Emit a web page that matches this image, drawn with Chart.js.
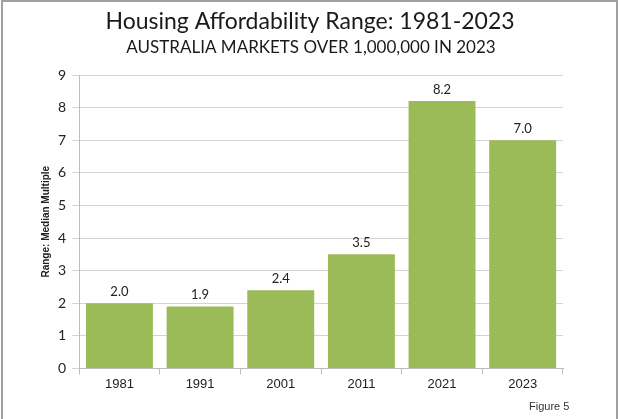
<!DOCTYPE html>
<html>
<head>
<meta charset="utf-8">
<script src="https://cdn.jsdelivr.net/npm/chart.js@4"></script>
<style>
  html, body { margin: 0; padding: 0; background: #fff; }
  #wrap { width: 618px; height: 419px; position: relative; }
</style>
</head>
<body>
<div id="wrap"><canvas id="chart" width="618" height="419"></canvas></div>
<script>
const years = ["1981", "1991", "2001", "2011", "2021", "2023"];
const medianMultiple = [2.0, 1.9, 2.4, 3.5, 8.2, 7.0];
const yTicks = [0, 1, 2, 3, 4, 5, 6, 7, 8, 9];

const chartTitle = "Housing Affordability Range: 1981-2023";
const chartSubtitle = "AUSTRALIA MARKETS OVER 1,000,000 IN 2023";

const barGreen = "#9bbb59";

// frame, titles, value labels and footnote
const extras = {
  id: "extras",
  beforeDraw: (chart) => {
    const ctx = chart.ctx;
    ctx.save();
    ctx.fillStyle = "#fff";
    ctx.fillRect(0, 0, chart.width, chart.height);
    ctx.strokeStyle = "#a0a0a0";
    ctx.lineWidth = 2;
    ctx.beginPath();
    ctx.moveTo(2, 425);
    ctx.lineTo(2, 1);
    ctx.lineTo(617, 1);
    ctx.lineTo(617, 425);
    ctx.stroke();

    ctx.fillStyle = "#1a1a1a";
    ctx.textAlign = "center";
    ctx.textBaseline = "middle";
    ctx.font = "23px Lato";
    ctx.fillText(chartTitle, 310, 22);
    ctx.font = "17px Lato";
    ctx.fillText(chartSubtitle, 311, 48);
    ctx.restore();
  },
  afterDatasetsDraw: (chart) => {
    const ctx = chart.ctx;
    const meta = chart.getDatasetMeta(0);
    ctx.save();
    ctx.fillStyle = "#222";
    ctx.font = "13px Lato";
    ctx.textAlign = "center";
    ctx.textBaseline = "bottom";
    meta.data.forEach((bar, i) => {
      ctx.fillText(medianMultiple[i].toFixed(1), bar.x, bar.y - 5);
    });
    ctx.font = "11px 'Liberation Sans'";
    ctx.fillStyle = "#333";
    ctx.textAlign = "left";
    ctx.textBaseline = "middle";
    ctx.fillText("Figure 5", 529, 407);
    ctx.restore();
  },
};

new Chart("chart", {
  type: "bar",
  data: {
    labels: years,
    datasets: [
      {
        data: medianMultiple,
        backgroundColor: barGreen,
        borderWidth: 0,
        categoryPercentage: 1,
        barPercentage: 0.83,
      },
    ],
  },
  options: {
    responsive: false,
    animation: false,
    devicePixelRatio: 1,
    layout: {
      padding: { left: 40, right: 55, top: 75, bottom: 25 },
    },
    scales: {
      x: {
        grid: {
          display: true,
          drawOnChartArea: false,
          drawTicks: true,
          tickLength: 6,
          color: "#bdbdbd",
          offset: true,
        },
        border: { color: "#bdbdbd" },
        ticks: {
          color: "#222",
          font: { family: "Liberation Sans", size: 13 },
          padding: 2,
        },
      },
      y: {
        min: 0,
        max: 9,
        afterBuildTicks: (axis) => {
          axis.ticks = yTicks.map((v) => ({ value: v }));
        },
        grid: {
          color: "#d4d4d4",
          tickLength: 7,
        },
        border: { color: "#bdbdbd" },
        ticks: {
          color: "#222",
          font: { family: "Lato", size: 14 },
          padding: 6,
        },
        title: {
          display: true,
          text: "Range: Median Multiple",
          color: "#222",
          font: { family: "Liberation Sans", size: 10, weight: "bold" },
          padding: 0,
        },
      },
    },
    plugins: {
      legend: { display: false },
      tooltip: { enabled: false },
    },
  },
  plugins: [extras],
});
</script>
</body>
</html>
